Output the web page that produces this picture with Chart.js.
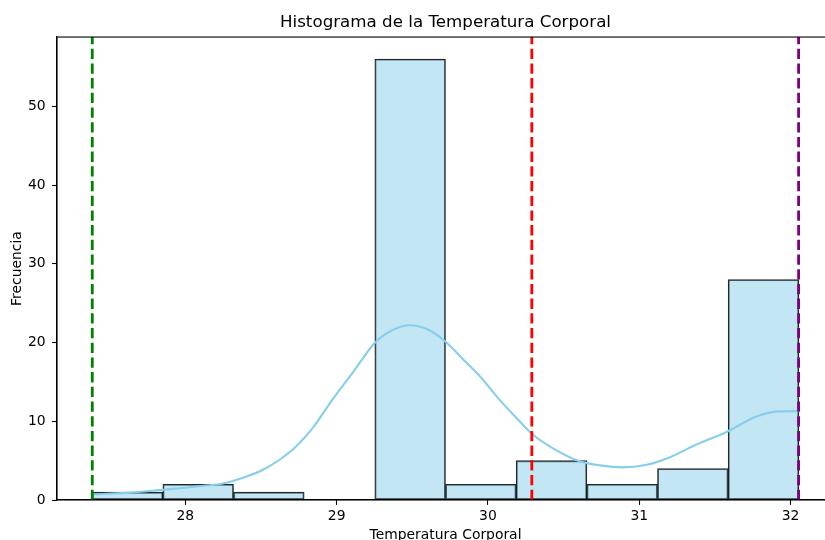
<!DOCTYPE html>
<html>
<head>
<meta charset="utf-8">
<script src="https://cdn.jsdelivr.net/npm/chart.js@4.4.1/dist/chart.umd.min.js"></script>
<style>
  html, body { margin: 0; padding: 0; background: #fff; overflow: hidden; width: 825px; height: 540px; }
  #wrap { position: absolute; left: 0; top: 0; width: 840px; height: 555px; }
</style>
</head>
<body>
<div id="wrap"><canvas id="c"></canvas></div>
<script>
// Histogram bins (centers) and counts
const binCenters = [27.618, 28.085, 28.552, 29.019, 29.486, 29.953, 30.420, 30.887, 31.354, 31.821];
const binCounts  = [1, 2, 1, 0, 56, 2, 5, 2, 4, 28];

// KDE curve (scaled to counts)
const kdeX = [27.385, 27.61, 27.83, 28.00, 28.12, 28.25, 28.40, 28.51, 28.62, 28.73, 28.84, 28.97, 29.11, 29.25, 29.33, 29.40, 29.48, 29.61, 29.72, 29.83, 29.95, 30.06, 30.17, 30.30, 30.43, 30.60, 30.74, 30.89, 31.04, 31.20, 31.37, 31.58, 31.77, 31.92, 32.053];
const kdeY = [0.7, 0.9, 1.25, 1.55, 1.8, 2.1, 2.96, 3.81, 5.08, 6.77, 9.1, 12.69, 16.28, 19.9, 21.15, 21.85, 22.2, 21.6, 20.1, 17.98, 15.65, 13.1, 10.79, 8.25, 6.56, 4.95, 4.4, 4.15, 4.44, 5.41, 6.98, 8.67, 10.57, 11.25, 11.29];

// Reference lines
const minTemp = 27.385;
const meanTemp = 30.29;
const maxTemp = 32.053;

const xTicks = [28, 29, 30, 31, 32];
const yTicks = [0, 10, 20, 30, 40, 50];
const xRange = [27.152, 32.287];
const yRange = [0, 58.8];

const FONT = "'DejaVu Sans', sans-serif";

function vline(x, color) {
  return {
    type: 'line',
    data: [{x: x, y: yRange[0]}, {x: x, y: yRange[1]}],
    borderColor: color,
    borderWidth: 2.8,
    borderDash: [10.3, 4.4],
    pointRadius: 0,
    fill: false,
    order: 0
  };
}

const framePlugin = {
  id: 'frame',
  afterDatasetsDraw(chart) {
    const a = chart.chartArea, ctx = chart.ctx;
    ctx.save();
    ctx.strokeStyle = '#000';
    ctx.lineWidth = 1.1;
    ctx.strokeRect(a.left, a.top, a.right - a.left, a.bottom - a.top);
    ctx.restore();
  }
};

new Chart(document.getElementById('c'), {
  type: 'bar',
  data: {
    datasets: [
      vline(minTemp, '#008000'),
      vline(meanTemp, '#ff0000'),
      vline(maxTemp, '#800080'),
      {
        type: 'line',
        data: kdeX.map((x, i) => ({x: x, y: kdeY[i]})),
        borderColor: '#87ceeb',
        borderWidth: 2.1,
        pointRadius: 0,
        cubicInterpolationMode: 'monotone',
        fill: false,
        order: 1
      },
      {
        type: 'bar',
        data: binCenters.map((x, i) => ({x: x, y: binCounts[i]})),
        backgroundColor: 'rgba(135,206,235,0.5)',
        borderColor: 'rgba(0,0,0,0.85)',
        borderWidth: 1.2,
        borderSkipped: false,
        barPercentage: 1,
        categoryPercentage: 1,
        order: 2
      }
    ]
  },
  options: {
    responsive: true,
    maintainAspectRatio: false,
    animation: false,
    devicePixelRatio: 1,
    layout: { padding: { left: 0, right: 6, top: 0, bottom: 5 } },
    plugins: {
      legend: { display: false },
      tooltip: { enabled: false },
      title: {
        display: true,
        fullSize: false,
        text: 'Histograma de la Temperatura Corporal',
        color: '#000',
        font: { family: FONT, size: 16.7, weight: 'normal' },
        padding: { top: 12.4, bottom: 4.6 }
      }
    },
    scales: {
      x: {
        type: 'linear',
        min: xRange[0],
        max: xRange[1],
        offset: false,
        afterBuildTicks: s => { s.ticks = xTicks.map(v => ({value: v})); },
        afterFit: s => { s.height = 50; },
        ticks: { color: '#000', font: { family: FONT, size: 13.9 }, padding: 3, maxRotation: 0,
                 callback: v => String(v) },
        grid: { display: true, drawOnChartArea: false, drawTicks: true, tickLength: 4.9, tickColor: '#000', tickWidth: 1.1, offset: false },
        border: { display: true, color: '#000', width: 1.1 },
        title: { display: true, text: 'Temperatura Corporal', color: '#000',
                 font: { family: FONT, size: 13.9 }, padding: { top: 6.7, bottom: 6.7 } }
      },
      y: {
        type: 'linear',
        min: yRange[0],
        max: yRange[1],
        afterBuildTicks: s => { s.ticks = yTicks.map(v => ({value: v})); },
        afterFit: s => { s.width = 57; },
        ticks: { color: '#000', font: { family: FONT, size: 13.9 }, padding: 6.5,
                 callback: v => String(v) },
        grid: { display: true, drawOnChartArea: false, drawTicks: true, tickLength: 4.9, tickColor: '#000', tickWidth: 1.1 },
        border: { display: true, color: '#000', width: 1.1 },
        title: { display: true, text: 'Frecuencia', color: '#000',
                 font: { family: FONT, size: 13.9 }, padding: { top: 8.7, bottom: 8.7 } }
      }
    }
  },
  plugins: [framePlugin]
});
</script>
</body>
</html>
